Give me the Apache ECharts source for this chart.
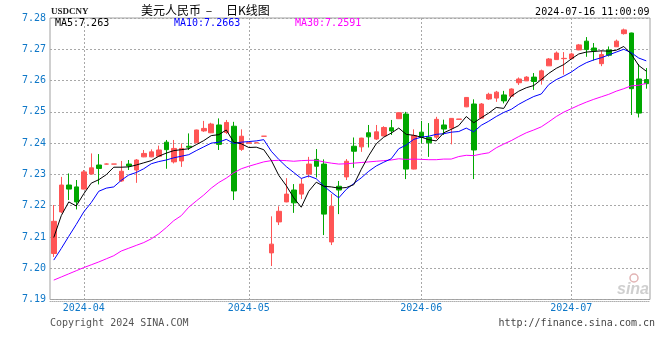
<!DOCTYPE html>
<html><head><meta charset="utf-8">
<style>html,body{margin:0;padding:0;background:#fff}#c{width:660px;height:360px}</style>
<script src="https://cdn.jsdelivr.net/npm/echarts@6/dist/echarts.min.js"></script>
</head><body><div id="c"></div>
<script>
const dates = [
'2024-03-26','2024-03-27','2024-03-28','2024-03-29',
'2024-04-01','2024-04-02','2024-04-03','2024-04-04','2024-04-05','2024-04-08','2024-04-09','2024-04-10','2024-04-11','2024-04-12',
'2024-04-15','2024-04-16','2024-04-17','2024-04-18','2024-04-19','2024-04-22','2024-04-23','2024-04-24','2024-04-25','2024-04-26',
'2024-04-29','2024-04-30',
'2024-05-01','2024-05-02','2024-05-03','2024-05-06','2024-05-07','2024-05-08','2024-05-09','2024-05-10','2024-05-13','2024-05-14',
'2024-05-15','2024-05-16','2024-05-17','2024-05-20','2024-05-21','2024-05-22','2024-05-23','2024-05-24','2024-05-27','2024-05-28',
'2024-05-29','2024-05-30','2024-05-31',
'2024-06-03','2024-06-04','2024-06-05','2024-06-06','2024-06-07','2024-06-10','2024-06-11','2024-06-12','2024-06-13','2024-06-14',
'2024-06-17','2024-06-18','2024-06-19','2024-06-20','2024-06-21','2024-06-24','2024-06-25','2024-06-26','2024-06-27','2024-06-28',
'2024-07-01','2024-07-02','2024-07-03','2024-07-04','2024-07-05','2024-07-08','2024-07-09','2024-07-10','2024-07-11','2024-07-12',
'2024-07-15'];

const opens = [7.2047,7.2180,7.2266,7.2260,7.2253,7.2301,7.2330,7.2333,7.2333,7.2279,
7.2333,7.2314,7.2356,7.2356,7.2358,7.2403,7.2340,7.2343,7.2390,7.2401,
7.2439,7.2433,7.2458,7.2434,7.2454,7.2380,7.2400,7.2401,7.2422,7.2049,
7.2148,7.2212,7.2250,7.2237,7.2301,7.2348,7.2333,7.2084,7.2262,7.2292,
7.2390,7.2388,7.2433,7.2413,7.2423,7.2449,7.2478,7.2493,7.2317,7.2435,
7.2418,7.2419,7.2458,7.2448,7.2476,7.2516,7.2525,7.2480,7.2541,7.2544,
7.2554,7.2550,7.2593,7.2599,7.2611,7.2603,7.2647,7.2667,7.2670,7.2670,
7.2698,7.2726,7.2704,7.2654,7.2698,7.2708,7.2750,7.2752,7.2605,7.2603];

const closes = [7.2150,7.2266,7.2253,7.2212,7.2308,7.2321,7.2319,7.2333,7.2333,7.2310,
7.2327,7.2346,7.2367,7.2372,7.2378,7.2379,7.2383,7.2383,7.2387,7.2442,
7.2447,7.2461,7.2396,7.2466,7.2247,7.2422,7.2401,7.2401,7.2422,7.2077,
7.2182,7.2237,7.2209,7.2269,7.2333,7.2326,7.2173,7.2198,7.2250,7.2342,
7.2374,7.2416,7.2420,7.2436,7.2450,7.2439,7.2497,7.2317,7.2424,7.2418,
7.2401,7.2476,7.2445,7.2479,7.2477,7.2546,7.2378,7.2525,7.2556,7.2563,
7.2535,7.2573,7.2605,7.2611,7.2597,7.2631,7.2669,7.2688,7.2671,7.2685,
7.2714,7.2699,7.2695,7.2683,7.2681,7.2726,7.2762,7.2574,7.2496,7.2590];

const highs = [7.2202,7.2292,7.2303,7.2282,7.2314,7.2367,7.2365,7.2335,7.2333,7.2343,
7.2346,7.2349,7.2378,7.2380,7.2392,7.2410,7.2410,7.2399,7.2431,7.2443,
7.2471,7.2465,7.2479,7.2474,7.2468,7.2444,7.2401,7.2401,7.2422,7.2166,
7.2198,7.2288,7.2269,7.2287,7.2356,7.2381,7.2348,7.2237,7.2279,7.2349,
7.2418,7.2417,7.2458,7.2458,7.2454,7.2474,7.2498,7.2500,7.2444,7.2471,
7.2464,7.2484,7.2475,7.2480,7.2477,7.2547,7.2540,7.2528,7.2561,7.2567,
7.2567,7.2575,7.2610,7.2614,7.2624,7.2635,7.2672,7.2693,7.2691,7.2689,
7.2717,7.2739,7.2720,7.2696,7.2709,7.2731,7.2766,7.2753,7.2653,7.2640];

const lows = [7.2036,7.2176,7.2218,7.2188,7.2252,7.2300,7.2268,7.2332,7.2333,7.2276,
7.2314,7.2273,7.2355,7.2355,7.2357,7.2318,7.2335,7.2324,7.2378,7.2400,
7.2436,7.2432,7.2378,7.2429,7.2218,7.2375,7.2400,7.2401,7.2422,7.2007,
7.2138,7.2211,7.2177,7.2221,7.2290,7.2290,7.2106,7.2074,7.2173,7.2282,
7.2321,7.2372,7.2386,7.2410,7.2422,7.2426,7.2477,7.2285,7.2316,7.2399,
7.2356,7.2413,7.2426,7.2396,7.2476,7.2515,7.2285,7.2479,7.2538,7.2532,
7.2527,7.2549,7.2586,7.2599,7.2570,7.2587,7.2647,7.2666,7.2619,7.2669,
7.2697,7.2676,7.2664,7.2646,7.2677,7.2708,7.2747,7.2490,7.2482,7.2574];

const ma5 = [7.2098,7.2168,7.2212,7.2199,7.2238,7.2272,7.2283,7.2299,7.2323,7.2323,
7.2324,7.2330,7.2337,7.2344,7.2358,7.2368,7.2376,7.2379,7.2382,7.2395,
7.2408,7.2424,7.2427,7.2442,7.2403,7.2398,7.2386,7.2387,7.2379,7.2345,
7.2297,7.2264,7.2225,7.2195,7.2246,7.2275,7.2262,7.2260,7.2256,7.2258,
7.2267,7.2316,7.2360,7.2398,7.2419,7.2432,7.2448,7.2428,7.2425,7.2419,
7.2411,7.2407,7.2433,7.2444,7.2456,7.2485,7.2465,7.2481,7.2496,7.2514,
7.2511,7.2550,7.2566,7.2577,7.2584,7.2603,7.2623,7.2639,7.2651,7.2669,
7.2685,7.2691,7.2693,7.2695,7.2694,7.2697,7.2709,7.2685,7.2648,7.2630];

const ma10 = [7.2026,7.2063,7.2102,7.2140,7.2180,7.2210,7.2246,7.2256,7.2260,7.2281,
7.2298,7.2306,7.2318,7.2334,7.2341,7.2346,7.2353,7.2358,7.2363,7.2376,
7.2388,7.2400,7.2403,7.2412,7.2399,7.2403,7.2405,7.2407,7.2411,7.2374,
7.2348,7.2325,7.2306,7.2287,7.2295,7.2286,7.2263,7.2243,7.2225,7.2252,
7.2271,7.2289,7.2310,7.2327,7.2339,7.2350,7.2382,7.2394,7.2412,7.2419,
7.2422,7.2428,7.2430,7.2435,7.2437,7.2448,7.2436,7.2457,7.2470,7.2485,
7.2498,7.2508,7.2524,7.2537,7.2549,7.2557,7.2587,7.2603,7.2614,7.2627,
7.2644,7.2657,7.2666,7.2673,7.2682,7.2691,7.2700,7.2689,7.2672,7.2663];

const ma30 = [7.1962,7.1972,7.1982,7.1992,7.2002,7.2011,7.2020,7.2030,7.2040,7.2055,
7.2064,7.2073,7.2082,7.2094,7.2110,7.2130,7.2152,7.2168,7.2195,7.2215,
7.2234,7.2256,7.2274,7.2288,7.2305,7.2318,7.2326,7.2333,7.2340,7.2344,
7.2345,7.2344,7.2342,7.2344,7.2345,7.2345,7.2340,7.2336,7.2333,7.2334,
7.2336,7.2338,7.2340,7.2342,7.2344,7.2346,7.2350,7.2348,7.2349,7.2348,
7.2347,7.2347,7.2349,7.2349,7.2357,7.2361,7.2360,7.2365,7.2369,7.2385,
7.2397,7.2408,7.2421,7.2433,7.2442,7.2452,7.2468,7.2485,7.2499,7.2510,
7.2521,7.2531,7.2540,7.2548,7.2556,7.2566,7.2574,7.2583,7.2585,7.2591];

const yMin = 7.19, yMax = 7.28, yStep = 0.01;
const titleText = ['美元人民币', '–', '日K线图'];
const symbolText = 'USDCNY';
const stampText = '2024-07-16 11:00:09';

const candle = dates.map((d, i) => [opens[i], closes[i], lows[i], highs[i]]);
const isMonthStart = i => i > 0 && dates[i].slice(5, 7) !== dates[i - 1].slice(5, 7);
const fmt = v => String(parseFloat(v.toFixed(4)));
const last = a => a[a.length - 1];
const mono = '"DejaVu Sans Mono", monospace';
const blueLbl = '#0f78c8';
const red = '#ff5555', green = '#00a800';

const chart = echarts.init(document.getElementById('c'), null, {renderer: 'canvas'});
chart.setOption({
  animation: false,
  backgroundColor: '#ffffff',
  grid: {left: 50, top: 18, width: 600, height: 281.5, show: true, borderColor: '#a0a0a0', borderWidth: 1, backgroundColor: 'transparent'},
  xAxis: {
    type: 'category', data: dates, boundaryGap: true, offset: 2,
    axisLine: {show: true, lineStyle: {color: '#b0b0b0', type: [1, 1], width: 1}},
    axisTick: {show: false},
    axisLabel: {interval: (i) => isMonthStart(i), formatter: v => v.slice(0, 7), color: blueLbl, fontFamily: mono, fontSize: 10, margin: 2},
    splitLine: {show: true, interval: (i) => isMonthStart(i), alignWithLabel: true, lineStyle: {color: '#a8a8a8', type: [2, 2], width: 1}}
  },
  yAxis: {
    type: 'value', min: yMin, max: yMax, interval: yStep, scale: true,
    axisLine: {show: false}, axisTick: {show: false},
    axisLabel: {formatter: v => v.toFixed(2), color: blueLbl, fontFamily: mono, fontSize: 10, margin: 4},
    splitLine: {show: true, lineStyle: {color: '#a8a8a8', type: [2, 2], width: 1}}
  },
  series: [
    {type: 'candlestick', data: candle, barWidth: 5, z: 2,
     itemStyle: {color: red, color0: green, borderColor: red, borderColor0: green, borderWidth: 1}},
    {type: 'line', data: ma30, symbol: 'none', z: 3, lineStyle: {color: '#ff00ff', width: 1}},
    {type: 'line', data: ma10, symbol: 'none', z: 3, lineStyle: {color: '#0000ff', width: 1}},
    {type: 'line', data: ma5, symbol: 'none', z: 3, lineStyle: {color: '#000000', width: 1}}
  ],
  graphic: [
    {type: 'text', x: 51, y: 12, style: {text: symbolText, fill: '#222', font: 'bold 9px "Liberation Serif"', verticalAlign: 'middle', align: 'left'}},
    {type: 'text', x: 141, y: 10, style: {text: titleText[0], fill: '#000', font: '12px "Noto Sans CJK SC"', verticalAlign: 'middle', align: 'left'}},
    {type: 'text', x: 209, y: 10, style: {text: titleText[1], fill: '#000', font: '12px "Noto Sans CJK SC"', verticalAlign: 'middle', align: 'center'}},
    {type: 'text', x: 226, y: 10, style: {text: titleText[2], fill: '#000', font: '12px "Noto Sans CJK SC"', verticalAlign: 'middle', align: 'left'}},
    {type: 'text', x: 649.5, y: 12, style: {text: stampText, fill: '#000', font: '10px ' + mono, verticalAlign: 'middle', align: 'right'}},
    {type: 'text', x: 55, y: 23.5, z: 10, style: {text: 'MA5:' + fmt(last(ma5)), fill: '#000', font: '10px ' + mono, verticalAlign: 'middle', align: 'left'}},
    {type: 'text', x: 174, y: 23.5, z: 10, style: {text: 'MA10:' + fmt(last(ma10)), fill: '#0000ff', font: '10px ' + mono, verticalAlign: 'middle', align: 'left'}},
    {type: 'text', x: 295, y: 23.5, z: 10, style: {text: 'MA30:' + fmt(last(ma30)), fill: '#ff00ff', font: '10px ' + mono, verticalAlign: 'middle', align: 'left'}},
    {type: 'text', x: 50, y: 323, style: {text: 'Copyright 2024 SINA.COM', fill: '#555', font: '10px ' + mono, verticalAlign: 'middle', align: 'left'}},
    {type: 'text', x: 655, y: 323, style: {text: 'http://finance.sina.com.cn', fill: '#444', font: '10px ' + mono, verticalAlign: 'middle', align: 'right'}},
    {type: 'circle', shape: {cx: 634, cy: 278, r: 4}, z: 1, style: {fill: 'none', stroke: '#e2b4b4', lineWidth: 1.5}},
    {type: 'text', x: 633, y: 290, z: 1, style: {text: 'sina', fill: '#cfcfcf', font: 'italic bold 16px "Liberation Sans"', verticalAlign: 'middle', align: 'center'}}
  ]
});
</script>
</body></html>
